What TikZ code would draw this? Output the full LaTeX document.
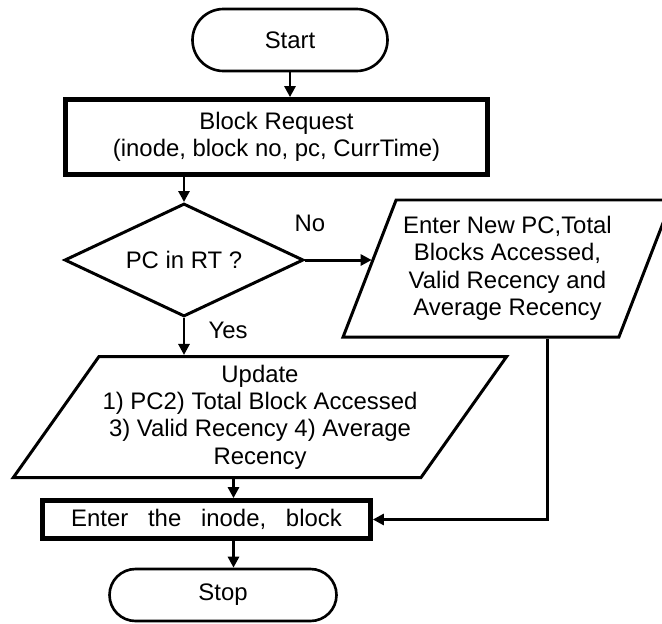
\documentclass[tikz,border=0pt]{standalone}
\usepackage{fontspec}
\setmainfont{Liberation Sans}
\usetikzlibrary{shapes.geometric,arrows.meta}

\tikzset{
  every node/.style={font=\fontsize{13.6}{15.6}\selectfont},
  term/.style={draw, line width=1.5pt, align=center},
  procbox/.style={draw, line width=2.7pt, align=center},
  decide/.style={draw, diamond, aspect=2.1, line width=1.7pt, inner sep=0pt},
  iobox/.style={draw, trapezium, trapezium stretches=true, line width=1.7pt, align=center, inner sep=0pt},
  flow/.style={line width=1.7pt, ->, >={Triangle[length=0.22cm,width=0.22cm]}},
}

\begin{document}
\begin{tikzpicture}
\useasboundingbox (0,0) rectangle (13.24,-12.46);

% boxes of the flow
\node [term, minimum width=3.9cm, minimum height=1.24cm, rounded corners=0.62cm] (start) at (5.80,-0.80) {Start};
\node [procbox, minimum width=8.44cm, minimum height=1.5cm] (br) at (5.53,-2.74) {Block Request\\(inode, block no, pc, CurrTime)};
\node [decide, minimum width=4.78cm, minimum height=2.26cm] (q) at (3.68,-5.20) {PC in RT ?};
\node [iobox, trapezium left angle=64.6, trapezium right angle=115.4, minimum width=6.58cm, minimum height=2.74cm] (newpc) at (10.15,-5.37) {Enter New PC,Total\\Blocks Accessed,\\Valid Recency and\\Average Recency};
\node [iobox, trapezium left angle=51.3, trapezium right angle=128.7, minimum width=9.9cm, minimum height=2.42cm] (upd) at (5.20,-8.34) {Update\\1) PC2) Total Block Accessed\\3) Valid Recency 4) Average\\Recency};
\node [procbox, minimum width=6.56cm, minimum height=0.76cm] (enter) at (4.13,-10.39) {Enter\hspace{0.55em} the\hspace{0.55em} inode,\hspace{0.55em} block};
\node [term, minimum width=4.54cm, minimum height=1.04cm, rounded corners=0.52cm] (stop) at (4.46,-11.90) {Stop};
\coordinate (drop) at ([xshift=0.54cm]enter.north);

% branch labels
\node (no) at (6.20,-4.46) {No};
\node (yes) at (4.56,-6.60) {Yes};

% connectors
\draw [flow] (start.south) -- (start.south |- br.north);
\draw [flow] (br.south -| q.north) -- (q.north);
\draw [flow] (q.east) -- (q.east -| newpc.176.7);
\draw [flow] (q.south) -- (q.south |- upd.north);
\draw [flow] (upd.south -| drop) -- (drop);
\draw [flow] (enter.south -| drop) -- (stop.north -| drop);
\draw [flow] ([xshift=0.79cm]newpc.south) |- (enter.east);
\end{tikzpicture}
\end{document}
